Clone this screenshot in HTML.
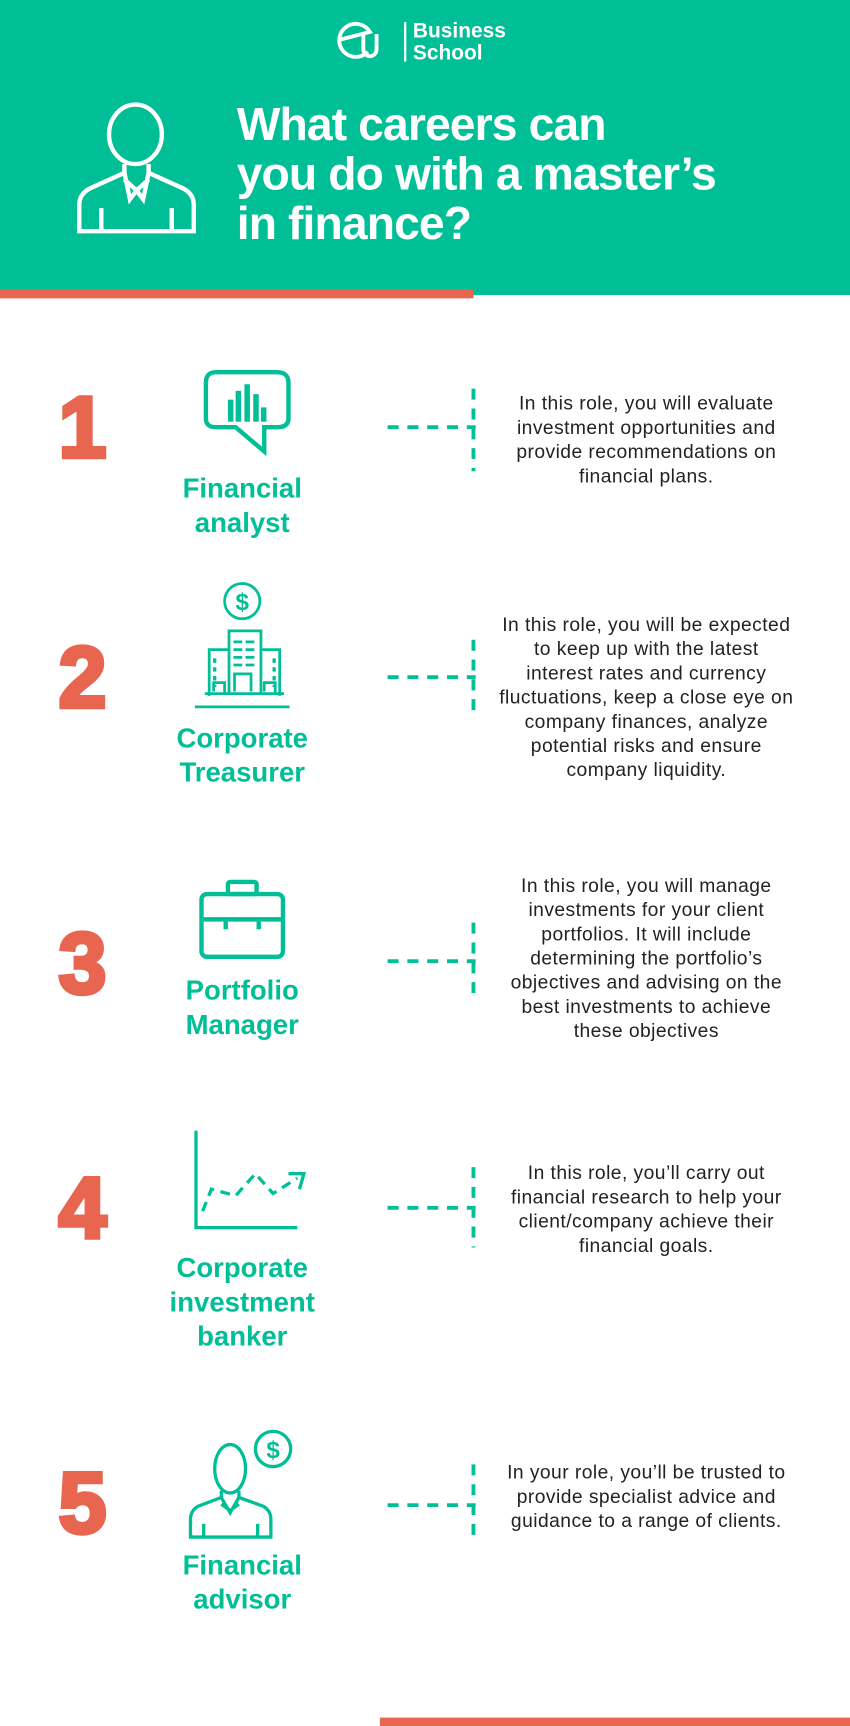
<!DOCTYPE html>
<html><head><meta charset="utf-8"><style>
html,body{margin:0;padding:0;width:850px;height:1726px;overflow:hidden;background:#fff}
#w{position:absolute;left:0;top:0;width:772px;height:1568px;transform:scale(1.10104);transform-origin:0 0;font-family:"Liberation Sans",sans-serif}
.a{position:absolute}
.num{position:absolute;left:40px;width:70px;text-align:center;color:#E8654F;font-weight:bold;font-size:78px;line-height:76px;-webkit-text-stroke:4px #E8654F}
.tt{position:absolute;left:120px;width:200px;text-align:center;color:#00BF96;font-weight:bold;font-size:25px;line-height:31px}
.ds{position:absolute;left:427px;width:320px;text-align:center;color:#222;font-size:17.5px;line-height:22px;letter-spacing:0.4px}
</style></head><body><div id="w">
<div class="a" style="left:0;top:0;width:772px;height:268px;background:#00BF96"></div>
<div class="a" style="left:0;top:263px;width:430px;height:8px;background:#E8654F"></div>
<div class="a" style="left:345px;top:1560px;width:427px;height:8px;background:#E8654F"></div>
<svg class="a" style="left:302px;top:14px" width="180" height="46" viewBox="0 0 180 46">
<path d="M32 33 A15 15 0 1 1 34 15 L7 22" fill="none" stroke="#fff" stroke-width="3.5"/>
<path d="M28 17 V31 A6 6 0 0 0 40 31 V17" fill="none" stroke="#fff" stroke-width="3.5"/>
<line x1="66" y1="6" x2="66" y2="42" stroke="#fff" stroke-width="2"/>
<text x="73" y="20" fill="#fff" font-family="Liberation Sans" font-weight="bold" font-size="19">Business</text>
<text x="73" y="40" fill="#fff" font-family="Liberation Sans" font-weight="bold" font-size="19">School</text>
</svg>
<svg class="a" style="left:68px;top:93px" width="112" height="122" viewBox="0 0 112 122">
<g fill="none" stroke="#fff" stroke-width="4">
<ellipse cx="55" cy="29" rx="24" ry="27"/>
<path d="M45 56 L45 64 L14 78 Q4 83 4 93 V117 H108 V93 Q108 83 98 78 L67 64 L67 56"/>
<path d="M45 64 L50 88 L56 80 L62 88 L67 64 M45 70 L56 80 L67 70"/>
<line x1="24" y1="96" x2="24" y2="117"/><line x1="88" y1="96" x2="88" y2="117"/>
</g></svg>
<div class="a" style="left:215px;top:90px;color:#fff;font-weight:bold;font-size:42px;line-height:45px;letter-spacing:-0.8px">What careers can<br>you do with a master’s<br>in finance?</div>

<svg class="a" style="left:0;top:0" width="772" height="1568">
<g stroke="#00BF96" stroke-width="3.5" stroke-dasharray="10,8" fill="none">
<path d="M352 388 H432 M430 353 V428"/>
<path d="M352 615 H432 M430 581 V650"/>
<path d="M352 873 H432 M430 838 V910"/>
<path d="M352 1097 H432 M430 1060 V1133"/>
<path d="M352 1367 H432 M430 1330 V1402"/>
</g>
<g fill="none" stroke="#00BF96" stroke-width="4">
<path d="M196 338 H252 Q262 338 262 348 V380 Q262 388 252 388 H240 V410 L214 388 H196 Q187 388 187 380 V348 Q187 338 196 338Z"/>
</g>
<g fill="#00BF96"><rect x="207" y="363" width="5" height="20"/><rect x="214" y="355" width="5" height="28"/><rect x="222" y="349" width="5" height="34"/><rect x="230" y="358" width="5" height="25"/><rect x="237" y="370" width="5" height="13"/></g>
<g fill="none" stroke="#00BF96" stroke-width="2.5">
<circle cx="220" cy="546" r="16"/>
<path d="M177 642 H263 M208 630 V573 H237 V630 M190 632 V590 H208 M237 590 H254 V632 M186 630 H258 M213 628 V612 H228 V628 M194 628 V620 H204 V630 M240 628 V620 H250 V630"/>
<path d="M212 583 H234 M212 590 H234 M212 597 H234 M212 604 H234" stroke-dasharray="8,3"/>
<path d="M195 598 V624 M249 598 V624" stroke-dasharray="4,4" stroke-width="3"/>
</g>
<text x="220" y="554" text-anchor="middle" fill="#00BF96" font-family="Liberation Sans" font-weight="bold" font-size="22">$</text>
<g fill="none" stroke="#00BF96" stroke-width="4">
<rect x="183" y="812" width="74" height="57" rx="5"/>
<rect x="207" y="801" width="26" height="11" rx="2"/>
<path d="M183 835 H257 M205 835 V844 M235 835 V844"/>
</g>
<g fill="none" stroke="#00BF96" stroke-width="3">
<path d="M178 1027 V1115 H270"/>
<path d="M184 1100 L192 1080 L214 1086 L232 1066 L248 1084 L270 1070" stroke-dasharray="9,6"/>
<path d="M262 1066 L276 1066 L272 1080"/>
</g>
<g fill="none" stroke="#00BF96" stroke-width="3">
<ellipse cx="209" cy="1334" rx="14" ry="22"/>
<path d="M201 1354 V1360 L180 1368 Q173 1372 173 1380 V1396 H246 V1380 Q246 1372 239 1368 L217 1360 V1354"/>
<path d="M201 1360 L209 1374 L217 1360 M201 1366 L209 1372 L217 1366 M185 1384 V1396 M234 1384 V1396"/>
<circle cx="248" cy="1316" r="16"/>
</g>
<text x="248" y="1324" text-anchor="middle" fill="#00BF96" font-family="Liberation Sans" font-weight="bold" font-size="22">$</text>
</svg>

<div class="num" style="top:350px">1</div>
<div class="num" style="top:577px">2</div>
<div class="num" style="top:837px">3</div>
<div class="num" style="top:1059px">4</div>
<div class="num" style="top:1327px">5</div>

<div class="tt" style="top:429px">Financial<br>analyst</div>
<div class="tt" style="top:656px">Corporate<br>Treasurer</div>
<div class="tt" style="top:885px">Portfolio<br>Manager</div>
<div class="tt" style="top:1137px">Corporate<br>investment<br>banker</div>
<div class="tt" style="top:1407px">Financial<br>advisor</div>

<div class="ds" style="top:355px">In this role, you will evaluate<br>investment opportunities and<br>provide recommendations on<br>financial plans.</div>
<div class="ds" style="top:556px">In this role, you will be expected<br>to keep up with the latest<br>interest rates and currency<br>fluctuations, keep a close eye on<br>company finances, analyze<br>potential risks and ensure<br>company liquidity.</div>
<div class="ds" style="top:793px">In this role, you will manage<br>investments for your client<br>portfolios. It will include<br>determining the portfolio’s<br>objectives and advising on the<br>best investments to achieve<br>these objectives</div>
<div class="ds" style="top:1054px">In this role, you’ll carry out<br>financial research to help your<br>client/company achieve their<br>financial goals.</div>
<div class="ds" style="top:1326px">In your role, you’ll be trusted to<br>provide specialist advice and<br>guidance to a range of clients.</div>
</div></body></html>
